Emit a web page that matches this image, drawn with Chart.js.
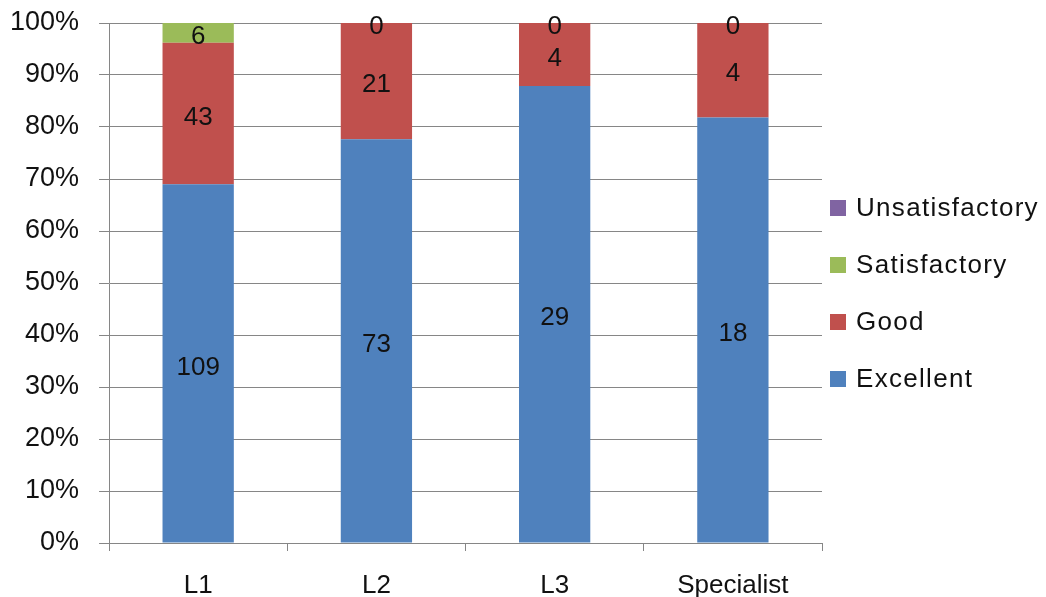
<!DOCTYPE html>
<html><head><meta charset="utf-8">
<script src="https://cdn.jsdelivr.net/npm/chart.js@4"></script>
<style>html,body{margin:0;padding:0;background:#fff;overflow:hidden;}canvas{display:block;}</style>
</head><body><canvas id="c" width="1046" height="597"></canvas>
<script>
const categories = ['L1', 'L2', 'L3', 'Specialist'];
const excellent = [109, 73, 29, 18];
const good = [43, 21, 4, 4];
const satisfactory = [6, 0, 0, 0];
const unsatisfactory = [0, 0, 0, 0];
const seriesNames = ['Excellent', 'Good', 'Satisfactory', 'Unsatisfactory'];
const seriesColors = ['#4F81BD', '#C0504D', '#9BBB59', '#8064A2'];
const yTickValues = [0, 10, 20, 30, 40, 50, 60, 70, 80, 90, 100];

const seriesCounts = [excellent, good, satisfactory, unsatisfactory];
const totals = categories.map((_, j) => seriesCounts.reduce((s, arr) => s + arr[j], 0));
const pct = arr => arr.map((v, j) => totals[j] ? v / totals[j] * 100 : 0);

const FONT = '"Liberation Sans", Arial, sans-serif';

const valueLabels = {
  id: 'valueLabels',
  afterDatasetsDraw(chart) {
    const ctx = chart.ctx;
    chart.data.datasets.forEach((ds, i) => {
      if (ds.showValues === false) return;
      const meta = chart.getDatasetMeta(i);
      if (meta.hidden) return;
      meta.data.forEach((bar, j) => {
        const p = bar.getProps(['x', 'y', 'base'], true);
        ctx.save();
        ctx.font = '26px ' + FONT;
        ctx.fillStyle = '#111';
        ctx.textAlign = 'center';
        ctx.textBaseline = 'middle';
        ctx.fillText(String(ds.counts[j]), p.x, (p.y + p.base) / 2 + 4);
        ctx.restore();
      });
    });
  }
};

const sideLegend = {
  id: 'sideLegend',
  afterDraw(chart) {
    const ctx = chart.ctx;
    const area = chart.chartArea;
    const x0 = area.right + 8;
    const step = 57;
    const n = chart.data.datasets.length;
    const yStart = area.top + 185;
    ctx.save();
    ctx.font = '26px ' + FONT;
    try { ctx.letterSpacing = '1.3px'; } catch (e) {}
    ctx.textBaseline = 'middle';
    ctx.textAlign = 'left';
    for (let k = 0; k < n; k++) {
      const i = n - 1 - k;
      const ds = chart.data.datasets[i];
      const yc = yStart + k * step;
      ctx.fillStyle = ds.backgroundColor;
      ctx.fillRect(x0, yc - 8, 16, 16);
      ctx.fillStyle = '#111';
      ctx.fillText(ds.label, x0 + 26, yc + 1);
    }
    ctx.restore();
  }
};

const datasets = seriesCounts.map((arr, i) => ({
  label: seriesNames[i],
  data: pct(arr),
  counts: arr,
  backgroundColor: seriesColors[i],
  borderWidth: 0,
  showValues: seriesNames[i] !== 'Unsatisfactory',
  categoryPercentage: 1,
  barPercentage: 0.4
}));

new Chart(document.getElementById('c'), {
  type: 'bar',
  data: { labels: categories, datasets },
  options: {
    responsive: false,
    animation: false,
    layout: { padding: { left: -10, right: 224, top: 23, bottom: -24 } },
    plugins: { legend: { display: false }, tooltip: { enabled: false } },
    scales: {
      x: {
        stacked: true,
        afterFit(axis) { axis.paddingLeft = 0; axis.paddingRight = 0; },
        grid: { display: true, drawOnChartArea: false, drawTicks: true, tickLength: 8, color: '#868686', offset: true },
        border: { display: true, color: '#868686', width: 1 },
        ticks: { font: { family: FONT, size: 26, lineHeight: 1 }, color: '#111', padding: 22 }
      },
      y: {
        stacked: true,
        min: 0, max: 100,
        afterBuildTicks(axis) { axis.ticks = yTickValues.map(v => ({ value: v })); },
        afterFit(axis) { axis.paddingTop = 0; axis.paddingBottom = 0; },
        grid: { color: '#868686', lineWidth: 1, tickLength: 10, drawTicks: true },
        border: { display: true, color: '#868686', width: 1 },
        ticks: { font: { family: FONT, size: 27 }, color: '#111', padding: 20, callback: v => v + '%' }
      }
    }
  },
  plugins: [valueLabels, sideLegend]
});
</script>
</body></html>
